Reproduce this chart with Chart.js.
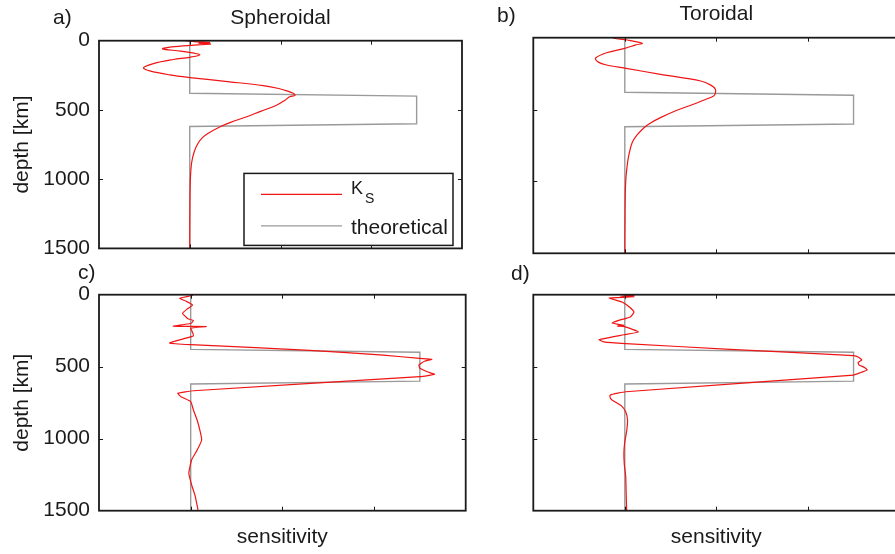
<!DOCTYPE html>
<html>
<head>
<meta charset="utf-8">
<script src="https://cdn.jsdelivr.net/npm/chart.js@4.4.0/dist/chart.umd.min.js"></script>
<style>
  body { margin: 0; width: 895px; height: 554px; overflow: hidden; background: #fff; position: relative; }
  canvas { position: absolute; }
  .lbl { position: absolute; font: 21px "Liberation Sans", Arial, sans-serif; line-height: 24px; color: #1a1a1a; }
</style>
</head>
<body>
<canvas id="cA" width="470" height="270" style="left:0;top:0"></canvas>
<canvas id="cB" width="440" height="270" style="left:470px;top:0"></canvas>
<canvas id="cC" width="470" height="284" style="left:0;top:270px"></canvas>
<canvas id="cD" width="440" height="284" style="left:470px;top:270px"></canvas>
<div class="lbl" style="left:53px;top:5px">a)</div>
<div class="lbl" style="left:497px;top:3px">b)</div>
<div class="lbl" style="left:78px;top:260px">c)</div>
<div class="lbl" style="left:511px;top:261px">d)</div>
<script>
// depth in km, sensitivity in arbitrary units (theoretical baseline = 0)
var depthTicks = [0, 500, 1000, 1500];
var sensTicks = [0, 1, 2];

var theoryDepth = [0, 380, 400, 600, 620, 1500];
var theorySens  = [0, 0, 2.5, 2.5, 0, 0];

// a) spheroidal, smooth kernel
var depthA = [0, 6, 12, 18, 24, 32, 45, 59, 75, 90, 102, 120, 136, 165, 195, 218, 247, 266, 297, 325, 345, 362, 380, 395, 405, 430, 468, 510, 551, 590, 623, 670, 700, 742, 800, 884, 1000, 1200, 1500];
var ksA    = [-0.05, 0.05, 0.22, 0.10, 0.23, 0.05, -0.20, -0.30, -0.10, 0.05, 0.11, 0.0, -0.18, -0.40, -0.51, -0.44, -0.22, 0.0, 0.44, 0.81, 0.98, 1.07, 1.14, 1.16, 1.10, 1.05, 0.95, 0.78, 0.62, 0.45, 0.33, 0.20, 0.14, 0.09, 0.05, 0.02, 0.007, 0.002, 0];

// b) toroidal, smooth kernel
var depthB = [0, 4, 16, 39, 50, 74, 105, 143, 170, 190, 212, 255, 301, 330, 359, 385, 406, 430, 463, 510, 556, 590, 626, 680, 731, 800, 870, 1000, 1200, 1500];
var ksB    = [-0.12, -0.12, 0.03, 0.19, 0.12, 0.0, -0.20, -0.32, -0.29, -0.20, 0.0, 0.39, 0.83, 0.94, 0.99, 0.99, 0.97, 0.88, 0.75, 0.55, 0.39, 0.29, 0.21, 0.13, 0.08, 0.05, 0.03, 0.01, 0.003, 0];

// c) spheroidal, recovered
var depthC = [0, 4, 10, 25, 45, 72, 100, 130, 150, 167, 180, 200, 219, 221, 232, 247, 285, 310, 335, 347, 386, 420, 442, 449, 462, 488, 511, 535, 553, 569, 667, 685, 710, 743, 801, 870, 940, 1009, 1080, 1148, 1240, 1320, 1400, 1495];
var ksC    = [0.0, 0.02, -0.02, -0.12, -0.05, 0.02, -0.04, -0.09, -0.06, -0.03, 0.03, 0.0, -0.19, 0.17, 0.0, 0.01, 0.03, -0.10, -0.23, 0.0, 1.30, 2.10, 2.50, 2.63, 2.55, 2.49, 2.50, 2.58, 2.66, 2.50, 0.03, -0.14, -0.10, 0.0, 0.03, 0.07, 0.10, 0.12, 0.07, 0.01, -0.02, 0.01, 0.05, 0.08];

// d) toroidal, recovered
var depthD = [0, 5, 10, 14, 23, 51, 85, 120, 155, 175, 197, 208, 213, 218, 222, 259, 278, 312, 328, 340, 379, 423, 436, 453, 470, 488, 505, 523, 540, 558, 674, 697, 715, 731, 770, 813, 870, 950, 1020, 1101, 1180, 1263, 1380, 1495];
var ksD    = [0.0, 0.10, -0.05, 0.10, -0.17, -0.03, 0.05, 0.10, 0.06, -0.05, -0.14, -0.05, -0.01, -0.08, 0.0, 0.15, -0.01, -0.28, -0.23, 0.01, 1.15, 2.50, 2.56, 2.59, 2.55, 2.56, 2.62, 2.65, 2.58, 2.50, 0.01, -0.16, -0.16, -0.14, -0.04, 0.01, 0.03, 0.02, 0.0, -0.01, -0.005, 0.01, 0.015, 0.02];

var FONT = '"Liberation Sans", Arial, sans-serif';
var INK = '#1a1a1a';

function pts(depth, sens) {
    return depth.map(function (d, i) { return { x: sens[i], y: d }; });
}

// box round the plot and matlab-style inward ticks
var framePlugin = {
    id: 'frame',
    afterDraw: function (chart) {
        var ctx = chart.ctx, a = chart.chartArea, x = chart.scales.x, y = chart.scales.y;
        ctx.save();
        ctx.strokeStyle = INK;
        ctx.lineWidth = 1;
        sensTicks.forEach(function (v) {
            var px = Math.round(x.getPixelForValue(v)) + 0.5;
            ctx.beginPath();
            ctx.moveTo(px, a.top); ctx.lineTo(px, a.top + 4);
            ctx.moveTo(px, a.bottom); ctx.lineTo(px, a.bottom - 4);
            ctx.stroke();
        });
        depthTicks.slice(1, -1).forEach(function (v) {
            var py = Math.round(y.getPixelForValue(v)) + 0.5;
            ctx.beginPath();
            ctx.moveTo(a.left, py); ctx.lineTo(a.left + 4, py);
            ctx.moveTo(a.right, py); ctx.lineTo(a.right - 4, py);
            ctx.stroke();
        });
        ctx.lineWidth = 1.8;
        ctx.strokeRect(a.left, a.top, a.right - a.left, a.bottom - a.top);
        ctx.restore();
    }
};

// legend drawn inside panel a
var legendPlugin = {
    id: 'innerLegend',
    afterDraw: function (chart) {
        var ctx = chart.ctx, a = chart.chartArea;
        var ds = chart.data.datasets;
        var bx = a.right - 218, by = a.bottom - 75, bw = 209, bh = 72;
        ctx.save();
        ctx.fillStyle = '#fff';
        ctx.fillRect(bx, by, bw, bh);
        ctx.strokeStyle = INK;
        ctx.lineWidth = 1.5;
        ctx.strokeRect(bx, by, bw, bh);
        var rows = [by + 21, by + 52.5];
        ds.forEach(function (d, i) {
            ctx.strokeStyle = d.borderColor;
            ctx.lineWidth = 1.3;
            ctx.beginPath();
            ctx.moveTo(bx + 17, rows[i]); ctx.lineTo(bx + 98, rows[i]);
            ctx.stroke();
        });
        ctx.fillStyle = INK;
        ctx.textBaseline = 'alphabetic';
        ctx.font = '18px ' + FONT;
        ctx.fillText('K', bx + 107, rows[0]);
        ctx.font = '14px ' + FONT;
        ctx.fillText('S', bx + 121, rows[0] + 9);
        ctx.font = '21px ' + FONT;
        ctx.fillText(ds[1].label, bx + 107, rows[1] + 8);
        ctx.restore();
    }
};

function makePanel(id, depth, sens, cfg) {
    var plugins = [framePlugin];
    if (cfg.legend) plugins.push(legendPlugin);
    return new Chart(document.getElementById(id).getContext('2d'), {
        type: 'scatter',
        data: {
            datasets: [{
                label: 'K_S',
                data: pts(depth, sens),
                showLine: true,
                borderColor: '#f01414',
                borderWidth: 1.2,
                pointRadius: 0,
                tension: cfg.tension
            }, {
                label: 'theoretical',
                data: pts(theoryDepth, theorySens),
                showLine: true,
                borderColor: '#9a9a9a',
                borderWidth: 1.4,
                pointRadius: 0,
                tension: 0
            }]
        },
        options: {
            responsive: false,
            animation: false,
            layout: { padding: cfg.padding },
            plugins: {
                legend: { display: false },
                tooltip: { enabled: false },
                title: {
                    display: !!cfg.title,
                    text: cfg.title || '',
                    fullSize: false,
                    color: INK,
                    font: { family: FONT, size: 21, weight: 'normal' },
                    padding: cfg.titlePad || 0
                }
            },
            scales: {
                x: {
                    type: 'linear',
                    display: !!cfg.xTitle,
                    min: -1,
                    max: 3,
                    ticks: { display: false, stepSize: 1 },
                    grid: { display: false, drawTicks: false },
                    border: { display: false },
                    title: {
                        display: !!cfg.xTitle,
                        text: cfg.xTitle || '',
                        color: INK,
                        font: { family: FONT, size: 21 },
                        padding: { top: 13.7, bottom: 0 }
                    }
                },
                y: {
                    type: 'linear',
                    reverse: true,
                    min: 0,
                    max: 1500,
                    afterBuildTicks: function (s) {
                        s.ticks = depthTicks.map(function (v) { return { value: v }; });
                    },
                    afterFit: function (s) { s.width = cfg.yWidth; },
                    ticks: {
                        display: cfg.yLabels,
                        color: INK,
                        padding: 9,
                        font: { family: FONT, size: 21 },
                        callback: function (v) { return String(v); }
                    },
                    grid: { display: false, drawTicks: false },
                    border: { display: false },
                    title: {
                        display: cfg.yLabels,
                        text: 'depth [km]',
                        color: INK,
                        font: { family: FONT, size: 21 },
                        padding: { top: 10, bottom: 0 }
                    }
                }
            }
        },
        plugins: plugins
    });
}

makePanel('cA', depthA, ksA, {
    title: 'Spheroidal', titlePad: { top: 5.9, bottom: 9.6 },
    padding: { left: 0, right: 8, top: 0, bottom: 19 },
    yWidth: 99, yLabels: true, tension: 0.35, legend: true
});
makePanel('cB', depthB, ksB, {
    title: 'Toroidal', titlePad: { top: 1.9, bottom: 10.6 },
    padding: { left: 0, right: 10.7, top: 0, bottom: 16.7 },
    yWidth: 63.3, yLabels: false, tension: 0.35
});
makePanel('cC', depthC, ksC, {
    xTitle: 'sensitivity',
    padding: { left: 0, right: 4.3, top: 24.7, bottom: 4.4 },
    yWidth: 99, yLabels: true, tension: 0.15
});
makePanel('cD', depthD, ksD, {
    xTitle: 'sensitivity',
    padding: { left: 0, right: 10.7, top: 24.7, bottom: 4.4 },
    yWidth: 63.3, yLabels: false, tension: 0.15
});
</script>
</body>
</html>
